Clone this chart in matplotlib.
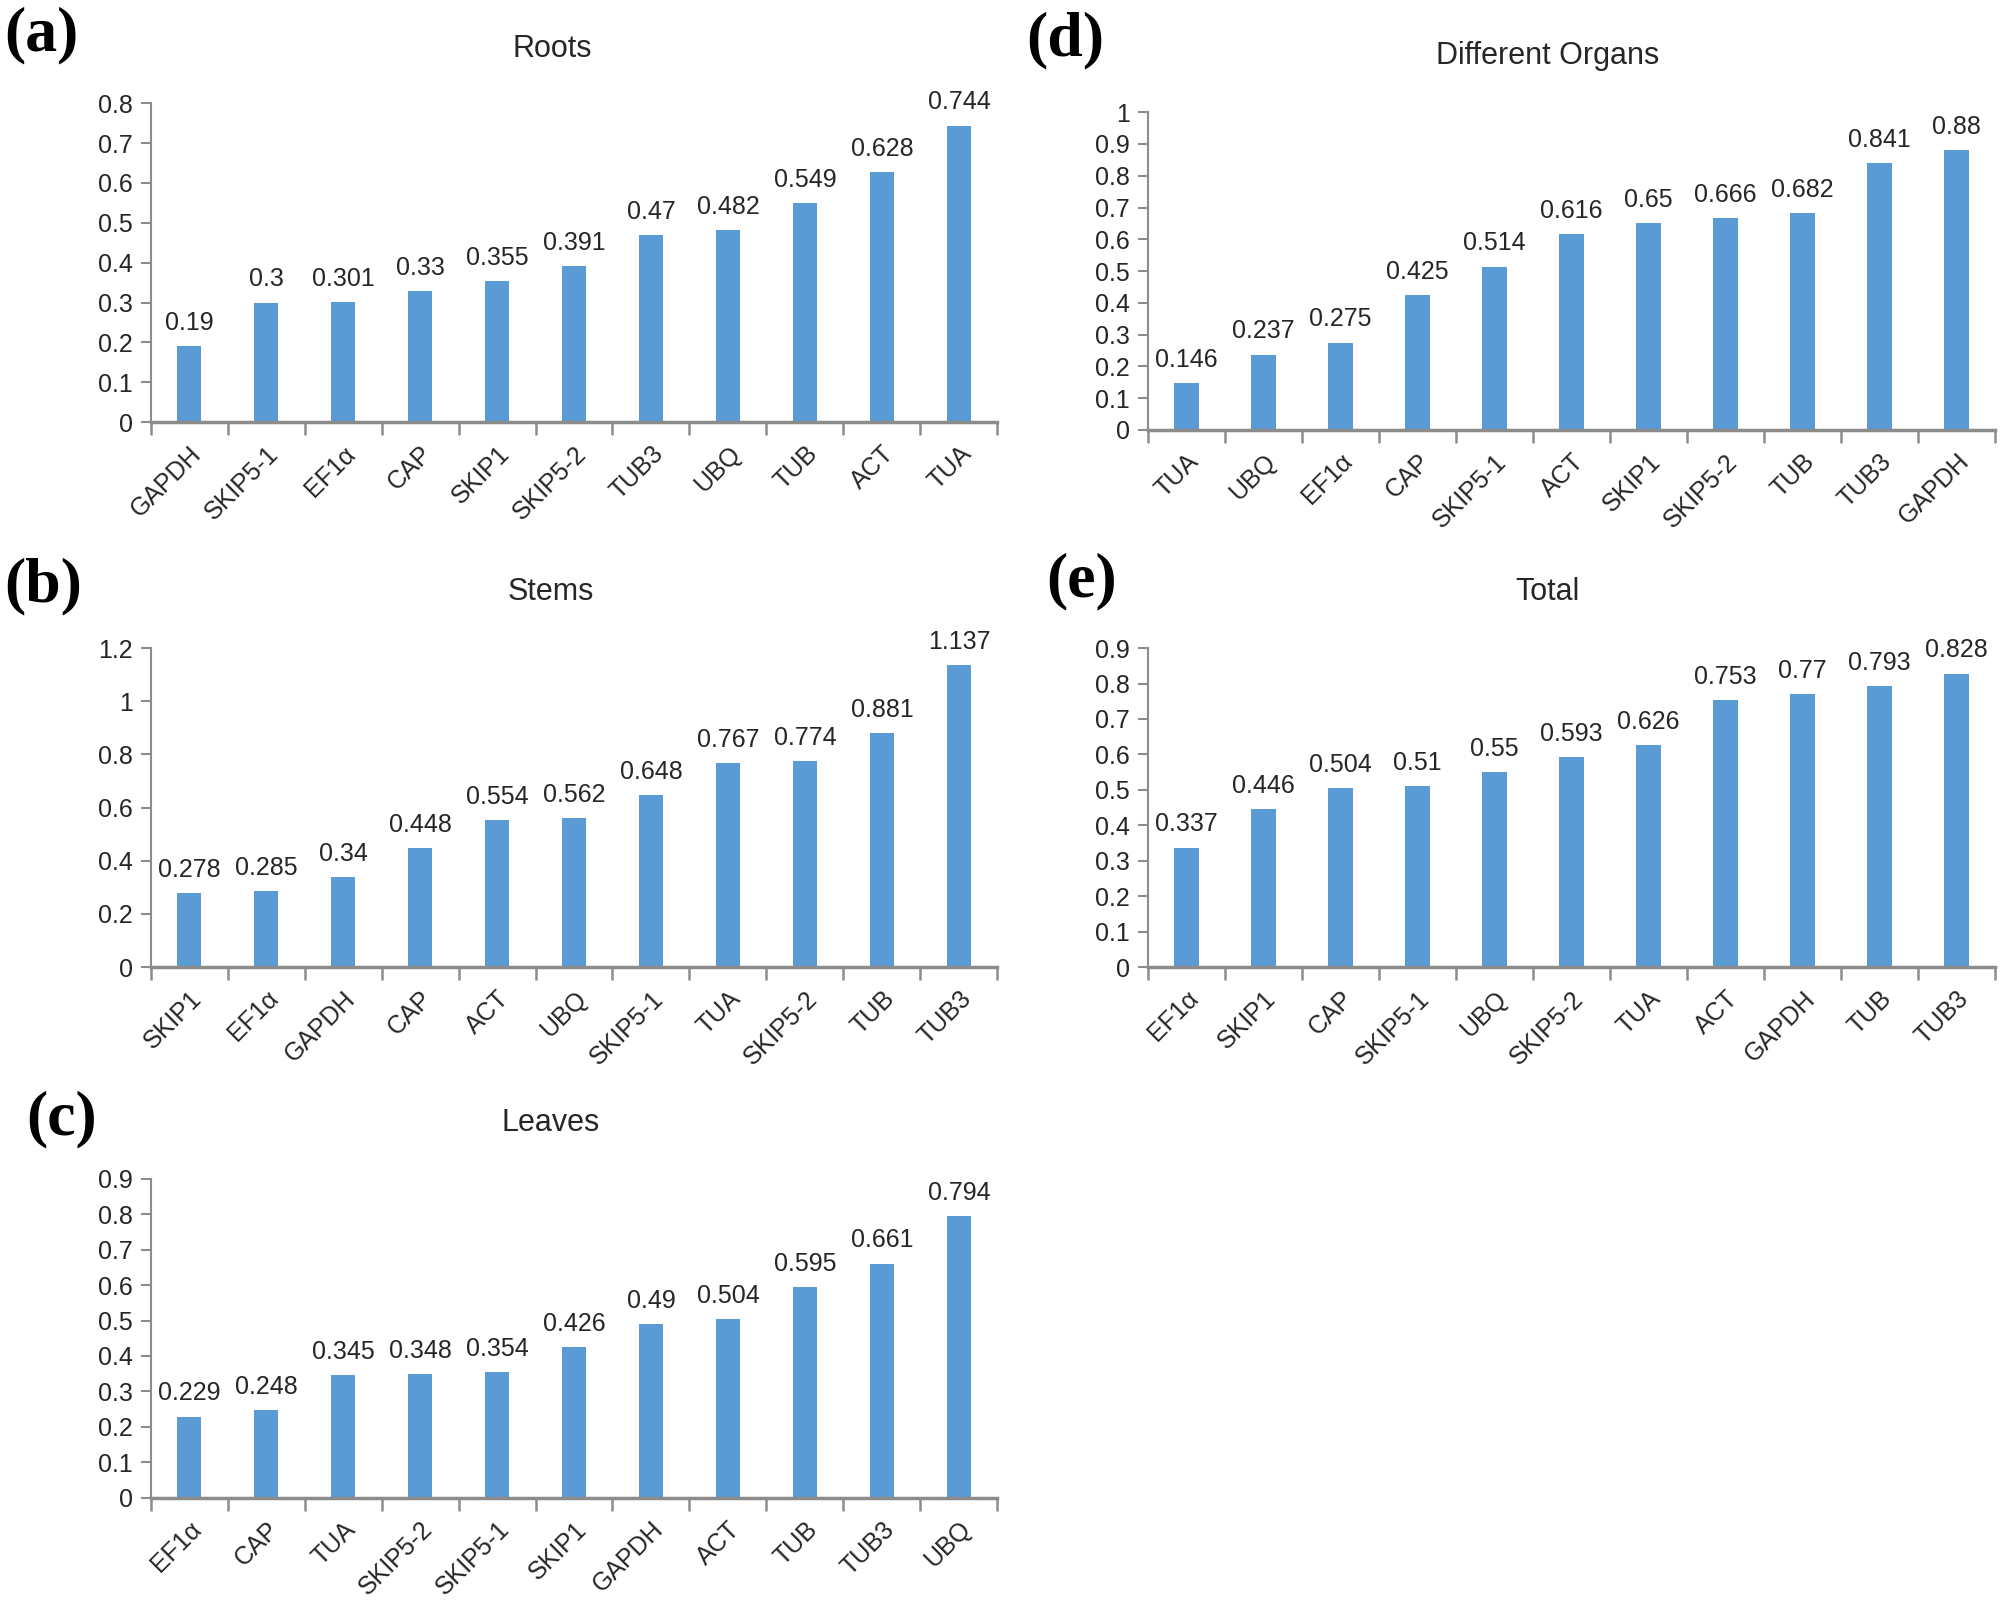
import matplotlib
matplotlib.use("Agg")
import matplotlib.pyplot as plt
import numpy as np

# Data
roots_genes = ["GAPDH", "SKIP5-1", "EF1α", "CAP", "SKIP1", "SKIP5-2", "TUB3", "UBQ", "TUB", "ACT", "TUA"]
roots_vals = [0.19, 0.3, 0.301, 0.33, 0.355, 0.391, 0.47, 0.482, 0.549, 0.628, 0.744]

stems_genes = ["SKIP1", "EF1α", "GAPDH", "CAP", "ACT", "UBQ", "SKIP5-1", "TUA", "SKIP5-2", "TUB", "TUB3"]
stems_vals = [0.278, 0.285, 0.34, 0.448, 0.554, 0.562, 0.648, 0.767, 0.774, 0.881, 1.137]

leaves_genes = ["EF1α", "CAP", "TUA", "SKIP5-2", "SKIP5-1", "SKIP1", "GAPDH", "ACT", "TUB", "TUB3", "UBQ"]
leaves_vals = [0.229, 0.248, 0.345, 0.348, 0.354, 0.426, 0.49, 0.504, 0.595, 0.661, 0.794]

organs_genes = ["TUA", "UBQ", "EF1α", "CAP", "SKIP5-1", "ACT", "SKIP1", "SKIP5-2", "TUB", "TUB3", "GAPDH"]
organs_vals = [0.146, 0.237, 0.275, 0.425, 0.514, 0.616, 0.65, 0.666, 0.682, 0.841, 0.88]

total_genes = ["EF1α", "SKIP1", "CAP", "SKIP5-1", "UBQ", "SKIP5-2", "TUA", "ACT", "GAPDH", "TUB", "TUB3"]
total_vals = [0.337, 0.446, 0.504, 0.51, 0.55, 0.593, 0.626, 0.753, 0.77, 0.793, 0.828]

plt.rcParams['font.family'] = ['Liberation Sans', 'DejaVu Sans']

bar_color = '#5b9bd5'
axis_color = '#8c8c8c'
text_color = '#262626'

fig = plt.figure(figsize=(20, 16.01), dpi=100)


def draw_panel(rect, genes, vals, ymax, ystep, title, title_xy, tag, tag_xy):
    ax = fig.add_axes(rect)
    x = np.arange(len(genes))
    ax.bar(x, vals, width=0.32, color=bar_color, zorder=2)
    for xi, v in zip(x, vals):
        ax.annotate(f'{v:g}', (xi, v), xytext=(0, 8), textcoords='offset points',
                    ha='center', va='bottom', fontsize=18, color=text_color)
    ax.set_xlim(-0.5, len(genes) - 0.5)
    ax.set_ylim(0, ymax)
    yt = np.round(np.arange(0, ymax + ystep / 2, ystep), 2)
    ax.set_yticks(yt)
    ax.set_yticklabels([f'{t:g}' for t in yt], fontsize=18, color=text_color)
    ax.set_xticks(x)
    ax.set_xticklabels(genes, rotation=45, ha='right', rotation_mode='anchor',
                       fontsize=18, color=text_color)
    # category separators drawn as minor ticks
    ax.set_xticks(np.arange(-0.5, len(genes), 1.0), minor=True)
    ax.tick_params(axis='x', which='major', length=0, pad=14)
    ax.tick_params(axis='x', which='minor', length=9, width=1.8, color=axis_color, direction='out')
    ax.tick_params(axis='y', length=7, width=1.5, color=axis_color, pad=6)
    for s in ['top', 'right']:
        ax.spines[s].set_visible(False)
    for s in ['left', 'bottom']:
        ax.spines[s].set_color(axis_color)
    ax.spines['left'].set_linewidth(1.5)
    ax.spines['bottom'].set_linewidth(2.5)
    fig.text(title_xy[0], title_xy[1], title, ha='center', va='center', fontsize=22, color=text_color)
    fig.text(tag_xy[0], tag_xy[1], tag, ha='left', va='center', fontsize=46,
             fontweight='bold', family='Liberation Serif')
    return ax


draw_panel([0.0753, 0.7363, 0.4234, 0.1992], roots_genes, roots_vals, 0.8, 0.1,
           'Roots', (0.276, 0.9697), '(a)', (0.002, 0.978))
draw_panel([0.0753, 0.396, 0.4234, 0.1992], stems_genes, stems_vals, 1.2, 0.2,
           'Stems', (0.2755, 0.630), '(b)', (0.002, 0.634))
draw_panel([0.0753, 0.0645, 0.4234, 0.1992], leaves_genes, leaves_vals, 0.9, 0.1,
           'Leaves', (0.2755, 0.2988), '(c)', (0.013, 0.301))
draw_panel([0.574, 0.7315, 0.4235, 0.1984], organs_genes, organs_vals, 1.0, 0.1,
           'Different Organs', (0.7736, 0.965), '(d)', (0.513, 0.975))
draw_panel([0.574, 0.396, 0.4235, 0.1992], total_genes, total_vals, 0.9, 0.1,
           'Total', (0.774, 0.630), '(e)', (0.523, 0.637))

fig.savefig('out.png', dpi=100)
